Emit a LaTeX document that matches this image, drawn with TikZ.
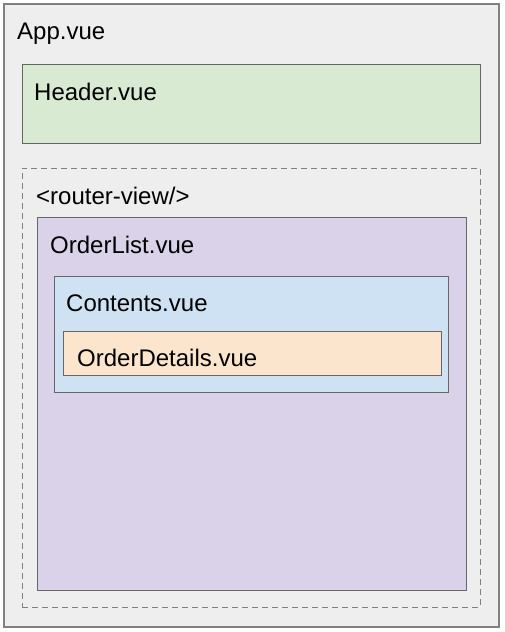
\documentclass[tikz,border=0pt]{standalone}
\usepackage{fontspec}
\setmainfont{Liberation Sans}
\usetikzlibrary{positioning}
\definecolor{appfill}{HTML}{EEEEEE}
\definecolor{appline}{HTML}{808080}
\definecolor{boxline}{HTML}{666666}
\definecolor{headerfill}{HTML}{D9EAD3}
\definecolor{listfill}{HTML}{D9D2E9}
\definecolor{contentsfill}{HTML}{CFE2F3}
\definecolor{detailsfill}{HTML}{FCE5CD}
\tikzset{
    vuebox/.style={draw=boxline, line width=1pt, anchor=north west,
        inner sep=0pt, outer sep=0pt},
    vuename/.style={anchor=base west, inner sep=0pt,
        font=\fontsize{24}{28}\selectfont},
}

\begin{document}
\begin{tikzpicture}[x=1pt, y=-1pt]
    \useasboundingbox (0,0) rectangle (504,632);

    % boxes, outermost first
    \node[vuebox, draw=appline, line width=1.3pt, fill=appfill, minimum width=495pt, minimum height=623pt] (app) at (4,4) {};
    \node[vuebox, fill=headerfill, minimum width=458pt, minimum height=79pt] (header) at (22,64) {};
    \node[vuebox, dashed, dash pattern=on 6pt off 4pt, draw=appline, minimum width=458pt, minimum height=439pt] (rview) at (22,168) {};
    \node[vuebox, fill=listfill, minimum width=429pt, minimum height=373pt] (orderlist) at (37,217) {};
    \node[vuebox, fill=contentsfill, minimum width=394pt, minimum height=116pt] (contents) at (54,276) {};
    \node[vuebox, fill=detailsfill, minimum width=378pt, minimum height=44pt] (details) at (63,331) {};

    % names
    \node[vuename] (appname) at ([shift={(13,35)}]app.north west) {App.vue};
    \node[vuename] (headername) at ([shift={(12,36)}]header.north west) {Header.vue};
    \node[vuename] (rviewname) at ([shift={(14,36)}]rview.north west) {<router-view/>};
    \node[vuename] (orderlistname) at ([shift={(13,36)}]orderlist.north west) {OrderList.vue};
    \node[vuename] (contentsname) at ([shift={(12,35)}]contents.north west) {Contents.vue};
    \node[vuename] (detailsname) at ([shift={(14,35)}]details.north west) {OrderDetails.vue};
\end{tikzpicture}
\end{document}
